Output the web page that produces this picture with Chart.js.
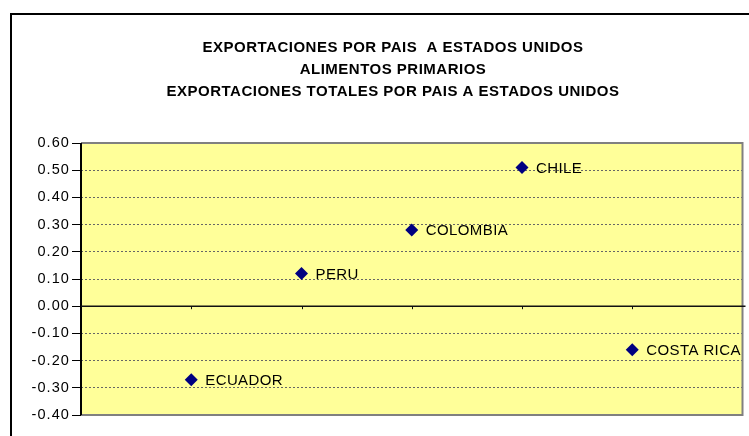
<!DOCTYPE html>
<html>
<head>
<meta charset="utf-8">
<script src="https://cdn.jsdelivr.net/npm/chart.js@4/dist/chart.umd.min.js"></script>
<style>
html,body{margin:0;padding:0;background:#fff;}
#wrap{width:749px;height:436px;position:relative;}
</style>
</head>
<body>
<div id="wrap"><canvas id="c" width="749" height="436"></canvas></div>
<script>
const countries = ['ECUADOR', 'PERU', 'COLOMBIA', 'CHILE', 'COSTA RICA'];
const xPositions = [1, 2, 3, 4, 5];
const values = [-0.27, 0.12, 0.28, 0.51, -0.16];
const titleLines = ['EXPORTACIONES POR PAIS  A ESTADOS UNIDOS', 'ALIMENTOS PRIMARIOS', 'EXPORTACIONES TOTALES POR PAIS A ESTADOS UNIDOS'];
const yMin = -0.4, yMax = 0.6, yStep = 0.1;

const FONT = '"Liberation Sans", Arial, sans-serif';

const decor = {
  id: 'decor',
  beforeInit(chart) { chart.ctx.letterSpacing = '1.1px'; },
  beforeLayout(chart) { chart.ctx.letterSpacing = '1.1px'; },
  beforeDraw(chart) {
    const {ctx, chartArea: a} = chart;
    ctx.letterSpacing = '1.1px';
    ctx.save();
    ctx.fillStyle = '#FFFF99';
    ctx.fillRect(a.left, a.top, a.right - a.left, a.bottom - a.top);
    ctx.restore();
  },
  afterDatasetsDraw(chart) {
    const {ctx, chartArea: a, scales: {x, y}} = chart;
    ctx.save();
    // plot border (gray)
    ctx.strokeStyle = '#808080';
    ctx.lineWidth = 2;
    ctx.beginPath();
    ctx.moveTo(a.left, a.top); ctx.lineTo(a.right, a.top); ctx.lineTo(a.right, a.bottom); ctx.lineTo(a.left, a.bottom);
    ctx.stroke();
    // y axis line
    ctx.strokeStyle = '#000';
    ctx.lineWidth = 2;
    ctx.beginPath(); ctx.moveTo(a.left, a.top); ctx.lineTo(a.left, a.bottom); ctx.stroke();
    // zero line
    const y0 = y.getPixelForValue(0);
    ctx.strokeStyle = '#111';
    ctx.lineWidth = 1.5;
    ctx.beginPath(); ctx.moveTo(a.left, y0); ctx.lineTo(a.right + 3, y0); ctx.stroke();
    // x tick marks
    ctx.lineWidth = 1;
    xPositions.forEach(v => {
      const px = Math.round(x.getPixelForValue(v)) + 0.5;
      ctx.beginPath(); ctx.moveTo(px, y0); ctx.lineTo(px, y0 + 3); ctx.stroke();
    });
    // outer chart border
    ctx.strokeStyle = '#000';
    ctx.lineWidth = 2;
    ctx.strokeRect(11, 14, 800, 500);
    // title
    ctx.fillStyle = '#000';
    ctx.font = 'bold 15px ' + FONT;
    ctx.letterSpacing = '0.5px';
    ctx.textAlign = 'center';
    ctx.textBaseline = 'middle';
    titleLines.forEach((t, i) => ctx.fillText(t, 393, 48 + i * 22));
    // point labels
    ctx.font = '15px ' + FONT;
    ctx.letterSpacing = '0.4px';
    ctx.textAlign = 'left';
    const meta = chart.getDatasetMeta(0);
    meta.data.forEach((pt, i) => {
      ctx.fillText(countries[i], pt.x + 14, pt.y + 1);
    });
    ctx.restore();
  }
};

new Chart(document.getElementById('c'), {
  type: 'scatter',
  data: {
    datasets: [{
      data: xPositions.map((xv, i) => ({x: xv, y: values[i]})),
      pointStyle: 'rectRot',
      pointRadius: 6.5,
      pointHoverRadius: 6.5,
      backgroundColor: '#000080',
      borderColor: '#000080',
      borderWidth: 0
    }]
  },
  options: {
    responsive: false,
    animation: false,
    layout: {padding: {left: 0, right: 3, top: 143, bottom: 21}},
    plugins: {legend: {display: false}, title: {display: false}, tooltip: {enabled: false}},
    scales: {
      x: {
        type: 'linear', min: 0, max: 6,
        display: false
      },
      y: {
        min: yMin, max: yMax,
        afterFit(s) { s.width = 81; },
        afterBuildTicks(s) {
          const t = [];
          for (let v = yMin; v <= yMax + 1e-9; v += yStep) t.push({value: Math.round(v * 100) / 100});
          s.ticks = t;
        },
        ticks: {
          color: '#000',
          font: {family: FONT, size: 14.5},
          padding: 2,
          callback: v => v.toFixed(2)
        },
        grid: {
          color: '#666',
          lineWidth: 1,
          tickColor: '#000',
          tickLength: 9,
          drawTicks: true
        },
        border: {display: false, dash: [2, 2]}
      }
    }
  },
  plugins: [decor]
});
</script>
</body>
</html>
